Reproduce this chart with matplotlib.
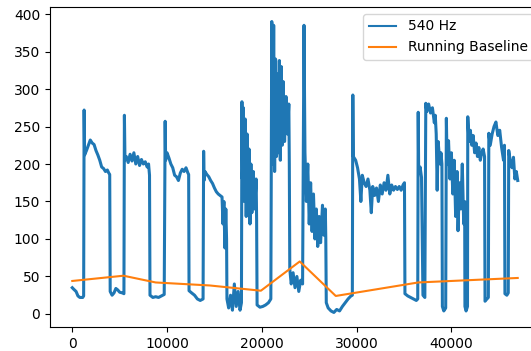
import numpy as np
import matplotlib
matplotlib.use('Agg')
import matplotlib.pyplot as plt

# 540 Hz trace (sample index, value)
sig_x = [0, 150, 400, 600, 800, 1100, 1200,
         1250, 1300, 1500, 1700, 1900, 2100, 2300, 2500, 2700, 2900, 3100, 3300, 3500, 3700, 3850, 3950,
         4000, 4200, 4400, 4600, 4800, 5000, 5300, 5450,
         5500, 5560, 5700, 5900, 6100, 6300, 6500, 6700, 6900, 7100, 7300, 7500, 7700, 7900, 8050, 8150,
         8200, 8500, 8800, 9100, 9400, 9700,
         9800, 9850, 10000, 10200, 10400, 10600, 10800, 11000, 11200, 11400, 11600, 11800, 12000, 12200, 12280,
         12320, 12600, 12900, 13200, 13500, 13800,
         13860, 13900, 14000, 14200, 14400, 14600, 14800, 15000, 15200, 15400, 15600, 15800, 15900, 16000, 16100, 16200, 16280,
         16320, 16500, 16700, 16900, 17100, 17300, 17500, 17700, 17850,
         17900, 17950, 18050, 18150, 18250, 18350, 18450, 18550, 18650, 18750, 18850, 18950, 19100, 19250, 19400, 19450,
         19500, 19800, 20100, 20400, 20700, 20950,
         21050, 21150, 21250, 21350, 21450, 21550, 21650, 21750, 21850, 21950, 22050, 22150, 22250, 22400, 22550, 22700, 22850, 22900,
         22950, 23100, 23300, 23500, 23700, 23900, 24100, 24300,
         24450, 24550, 24700, 24850, 25000, 25150, 25300, 25450, 25600, 25750, 25900, 26050, 26200, 26400, 26550, 26700, 26750,
         26800, 27000, 27300, 27600, 27900, 28200, 28500, 28800, 29100, 29400, 29550,
         29600, 29650, 29900, 30100, 30300, 30450, 30600, 30800, 31000, 31200, 31400, 31550, 31700, 31900, 32100, 32300,
         32500, 32700, 32900, 33100, 33300, 33500, 33700, 33900, 34100, 34300, 34500, 34700, 34900, 35050,
         35100, 35400, 35700, 36000, 36300, 36450,
         36500, 36550, 36700, 36850, 37000, 37200,
         37300, 37400, 37600, 37800, 38000, 38200, 38300, 38400, 38500, 38600, 38700, 38800, 38900, 39000,
         39050, 39200, 39400,
         39470, 39550, 39700, 39850, 40000, 40150, 40300, 40450, 40600, 40700, 40850, 41000, 41150, 41300, 41400,
         41430, 41550, 41700,
         41730, 41850, 42000, 42150, 42300, 42450, 42600, 42750, 42900, 43050, 43200, 43350, 43500,
         43550, 43750, 43900,
         43950, 44100, 44300, 44500, 44700, 44900, 45100, 45300, 45500, 45600,
         45650, 45850, 46000,
         46050, 46200, 46400, 46550, 46700, 46850, 47000]
sig_y = [35, 33, 30, 24, 22, 22, 24,
         272, 212, 218, 225, 232, 228, 226, 218, 212, 205, 196, 194, 190, 192, 188, 186,
         30, 25, 28, 34, 32, 29, 28, 27,
         265, 205, 210, 202, 213, 204, 215, 200, 210, 198, 206, 200, 203, 196, 200, 185,
         25, 22, 23, 22, 24, 26,
         257, 205, 215, 208, 200, 195, 185, 183, 178, 188, 193, 190, 195, 188, 186,
         31, 28, 25, 20, 18, 20,
         217, 178, 190, 186, 183, 178, 174, 168, 163, 160, 158, 156, 120, 150, 88, 140, 100,
         20, 8, 25, 5, 40, 10, 30, 5, 15,
         283, 180, 275, 150, 260, 130, 240, 160, 220, 120, 200, 135, 190, 140, 180, 125,
         12, 9, 10, 12, 15, 20,
         390, 200, 385, 190, 340, 210, 320, 215, 338, 205, 330, 225, 310, 230, 290, 240, 280, 200,
         60, 40, 55, 35, 50, 30, 45, 40,
         385, 215, 150, 200, 120, 175, 110, 160, 100, 140, 90, 130, 95, 145, 105, 140, 100,
         15, 8, 4, 2, 6, 4, 10, 15, 20, 24, 25,
         292, 210, 205, 195, 180, 150, 185, 175, 170, 180, 165, 135, 170, 158, 168, 150,
         172, 160, 175, 165, 185, 160, 172, 165, 170, 166, 170, 165, 172, 175,
         27, 24, 22, 20, 18, 20,
         269, 190, 196, 182, 25, 22,
         281, 270, 280, 268, 275, 255, 265, 240, 165, 230, 215, 200, 215, 200,
         10, 4, 8,
         261, 200, 231, 180, 215, 160, 205, 130, 190, 111, 175, 140, 200, 120, 150,
         10, 4, 10,
         263, 230, 245, 225, 238, 215, 228, 210, 222, 205, 215, 220, 210,
         17, 20, 22,
         241, 225, 240, 250, 256, 238, 245, 222, 205, 225,
         27, 25, 28,
         218, 205, 195, 209, 180, 190, 178]

# running baseline knots
base_x = [0, 5400, 8800, 14500, 19900, 24000, 27800, 36500, 47000]
base_y = [44, 51, 42, 38, 31, 70, 24, 42, 48]

fig = plt.figure(figsize=(5.31, 3.51), dpi=100)
ax = fig.add_axes([50/531, 24/351, 490/531, 320/351])

ax.plot(sig_x, sig_y, color='#1f77b4', lw=2.2, label='540 Hz')
ax.plot(base_x, base_y, color='#ff7f0e', lw=1.5, label='Running Baseline')
leg = ax.legend(loc='upper right')
leg.get_lines()[0].set_linewidth(1.5)

ax.set_yticks(np.arange(0, 401, 50))
ax.set_xticks(np.arange(0, 40001, 10000))

fig.savefig('out.png', dpi=100)
